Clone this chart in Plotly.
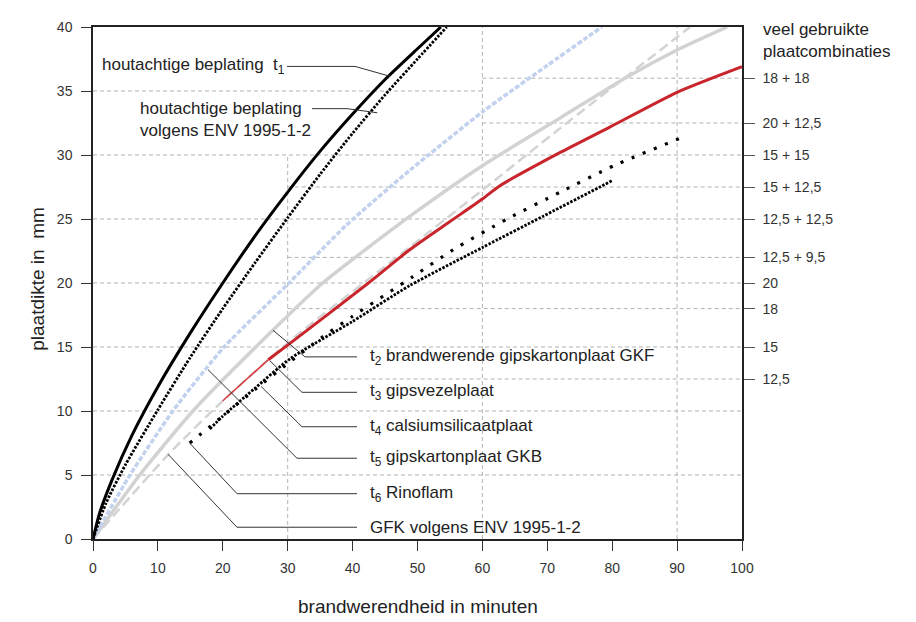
"""Plaatdikte versus brandwerendheid - Plotly recreation."""
import plotly.graph_objects as go

# --- data --------------------------------------------------------------
t1_x = [0, 1, 3, 6, 10, 15, 20, 25, 30, 35, 40, 45, 50, 53.6]
t1_y = [0, 2.0, 4.7, 8.1, 11.9, 16.1, 20.0, 23.7, 27.1, 30.3, 33.2, 35.9, 38.3, 40]

env_x = [0, 2, 5, 10, 15, 20, 25, 30, 35, 40, 45, 50, 54.5]
env_y = [0, 2.8, 5.8, 10.1, 14.2, 18.0, 21.6, 25.1, 28.5, 31.7, 34.7, 37.5, 40]

gkb_x = [0, 5.7, 12.3, 20.2, 30.2, 39, 48.8, 60.1, 70, 78.4]
gkb_y = [0, 5, 10, 15, 20, 24.5, 28.8, 33.4, 37, 40]

gkf_x = [0, 7.2, 15.4, 27.7, 35.4, 48.8, 60.1, 72, 82.3, 90, 97.7]
gkf_y = [0, 5, 10, 16.3, 20, 25.2, 29.2, 32.9, 36.1, 38.2, 40]

gfk_env_x = [0, 11.6, 20, 30.4, 48.8, 60.1, 72, 92]
gfk_env_y = [0, 6.6, 10.8, 15.5, 22.8, 27.3, 32.1, 40]

gipsvezel_thin_x = [20, 27]
gipsvezel_thin_y = [10.8, 14.0]
gipsvezel_x = [27, 30.4, 42.2, 48.8, 55, 60.1, 62.7, 72, 79.7, 90, 100]
gipsvezel_y = [14.0, 15.3, 19.9, 22.6, 24.8, 26.6, 27.6, 30.2, 32.2, 34.9, 36.9]

calsium_x = [18, 20, 25, 30.4, 40, 48.8, 60.1, 69.3, 80]
calsium_y = [8.6, 9.6, 11.8, 14.1, 17, 19.8, 22.8, 25.2, 28]

rinoflam_x = [14.9, 20, 25, 30, 35.4, 40, 49.3, 55.5, 63.8, 72, 80.4, 90.9]
rinoflam_y = [7.5, 9.6, 11.7, 13.7, 15.8, 17.4, 20.5, 22.6, 25, 27.1, 29.2, 31.4]

x_ticks = [0, 10, 20, 30, 40, 50, 60, 70, 80, 90, 100]
y_ticks = [0, 5, 10, 15, 20, 25, 30, 35, 40]
combi_vals = [36, 32.5, 30, 27.5, 25, 22, 20, 18, 15, 12.5]
combi_labels = ['18 + 18', '20 + 12,5', '15 + 15', '15 + 12,5', '12,5 + 12,5',
                '12,5 + 9,5', '20', '18', '15', '12,5']

FONT = 'Liberation Sans, Arial, sans-serif'
TXT = '#222222'

fig = go.Figure()


def add_line(x, y, color, width, dash='solid'):
    fig.add_trace(go.Scatter(
        x=x, y=y, mode='lines', showlegend=False, hoverinfo='skip',
        line={'color': color, 'width': width, 'dash': dash, 'shape': 'spline', 'smoothing': 0.6}
    ))


add_line(gkf_x, gkf_y, '#d2d2d2', 3.5)
add_line(gfk_env_x, gfk_env_y, '#d3d3d3', 2.5, '10px,5px')
add_line(gkb_x, gkb_y, '#c2d2ee', 3.5, '5px,2px')
add_line(gipsvezel_thin_x, gipsvezel_thin_y, '#d9363b', 1.5)
add_line(gipsvezel_x, gipsvezel_y, '#c9252c', 3)
add_line(calsium_x, calsium_y, '#000000', 2.8, '2.5px,1.5px')
add_line(rinoflam_x, rinoflam_y, '#000000', 3.2, '3px,9px')
add_line(env_x, env_y, '#000000', 2.8, '2.5px,1.5px')
add_line(t1_x, t1_y, '#000000', 3)

# dummy trace so the right-hand axis gets drawn
fig.add_trace(go.Scatter(x=[None], y=[None], yaxis='y2', showlegend=False, hoverinfo='skip'))

# dashed grid, partial like in the original
grid = []
for v in [5, 10, 15, 20, 25, 30]:
    grid.append((0, v, 100, v))
grid.append((0, 35, 60, 35))
for v in [36, 32.5]:
    grid.append((60, v, 100, v))
for v in [27.5, 22, 18, 12.5]:
    grid.append((30, v, 100, v))
grid += [(30, 0, 30, 30), (60, 0, 60, 40), (90, 0, 90, 40)]

shapes = []
for x0, y0, x1, y1 in grid:
    shapes.append({
        'type': 'line', 'xref': 'x', 'yref': 'y', 'x0': x0, 'y0': y0, 'x1': x1, 'y1': y1,
        'line': {'color': '#b3b3b3', 'width': 1, 'dash': '4px,3px'}, 'layer': 'below'
    })

# labels with their leader lines (text anchor, then leader path points)
labels = [
    ('houtachtige beplating\u00a0 t<sub>1</sub>', 1.08, 36.92,
     [(29.9, 36.92), (40.37, 36.92), (45.76, 36.15)]),
    ('houtachtige beplating<br>volgens ENV 1995-1-2', 6.93, 32.8,
     [(33.74, 33.62), (39.14, 33.62), (43.8, 33.3)]),
    ('t<sub>2</sub> brandwerende gipskartonplaat GKF', 42.4, 14.23,
     [(40.68, 14.23), (32.67, 14.23), (27.73, 16.31)]),
    ('t<sub>3</sub> gipsvezelplaat', 42.4, 11.46,
     [(40.68, 11.46), (32.2, 11.46), (27.27, 13.92)]),
    ('t<sub>4</sub> calsiumsilicaatplaat', 42.4, 8.77,
     [(40.68, 8.77), (32.2, 8.77), (25.89, 11.92)]),
    ('t<sub>5</sub> gipskartonplaat GKB', 42.4, 6.31,
     [(40.68, 6.31), (31.43, 6.31), (17.72, 13.23)]),
    ('t<sub>6</sub> Rinoflam', 42.4, 3.54,
     [(40.68, 3.54), (22.19, 3.54), (14.95, 7.46)]),
    ('GFK volgens ENV 1995-1-2', 42.4, 0.92,
     [(40.68, 0.92), (22.19, 0.92), (11.56, 6.62)]),
]

annotations = []
for text, tx, ty, pts in labels:
    annotations.append({
        'text': text, 'x': tx, 'y': ty, 'xref': 'x', 'yref': 'y', 'showarrow': False,
        'xanchor': 'left', 'yanchor': 'middle', 'align': 'left',
        'font': {'family': FONT, 'size': 17, 'color': TXT}
    })
    path = 'M ' + ' L '.join(f'{px},{py}' for px, py in pts)
    shapes.append({
        'type': 'path', 'xref': 'x', 'yref': 'y', 'path': path,
        'line': {'color': '#333333', 'width': 1}, 'layer': 'above'
    })

annotations += [
    {'text': 'veel gebruikte<br>plaatcombinaties', 'xref': 'paper', 'yref': 'paper',
     'x': 1.03, 'y': 0.973, 'xanchor': 'left', 'yanchor': 'middle', 'align': 'left',
     'showarrow': False, 'font': {'family': FONT, 'size': 17, 'color': TXT}},
    {'text': 'plaatdikte in\u00a0 mm', 'xref': 'paper', 'yref': 'paper',
     'x': -0.085, 'y': 0.508, 'xanchor': 'center', 'yanchor': 'middle', 'textangle': -90,
     'showarrow': False, 'font': {'family': FONT, 'size': 19, 'color': TXT}},
    {'text': 'brandwerendheid in minuten', 'xref': 'paper', 'yref': 'paper',
     'x': 0.5, 'y': -0.131, 'xanchor': 'center', 'yanchor': 'middle',
     'showarrow': False, 'font': {'family': FONT, 'size': 19, 'color': TXT}},
]

tick_font = {'family': FONT, 'size': 14, 'color': '#333333'}

# the page adds an 8px body margin, so the figure is 8px smaller and shifted back
fig.layout = {
    'width': 908, 'height': 614,
    'margin': {'l': 85, 'r': 174, 't': 11, 'b': 83},
    'paper_bgcolor': 'white', 'plot_bgcolor': 'white',
    'xaxis': {
        'range': [0, 100], 'tickvals': x_ticks, 'ticks': 'outside', 'ticklen': 10,
        'tickcolor': '#333333', 'showline': True, 'linecolor': '#222222', 'linewidth': 1.5,
        'mirror': True, 'showgrid': False, 'zeroline': False, 'tickfont': tick_font,
        'ticklabelstandoff': 5,
    },
    'yaxis': {
        'range': [0, 40], 'tickvals': y_ticks, 'ticks': 'outside', 'ticklen': 10,
        'tickcolor': '#333333', 'showline': True, 'linecolor': '#222222', 'linewidth': 1.5,
        'showgrid': False, 'zeroline': False, 'tickfont': tick_font, 'ticklabelstandoff': 6,
    },
    'yaxis2': {
        'range': [0, 40], 'overlaying': 'y', 'side': 'right', 'tickvals': combi_vals,
        'ticktext': combi_labels, 'ticks': 'outside', 'ticklen': 11, 'tickcolor': '#555555',
        'showline': True, 'linecolor': '#222222', 'linewidth': 1.5, 'showgrid': False,
        'zeroline': False, 'tickfont': tick_font, 'ticklabelstandoff': 5,
    },
    'shapes': shapes,
    'annotations': annotations,
}

fig.write_html('out.html')
